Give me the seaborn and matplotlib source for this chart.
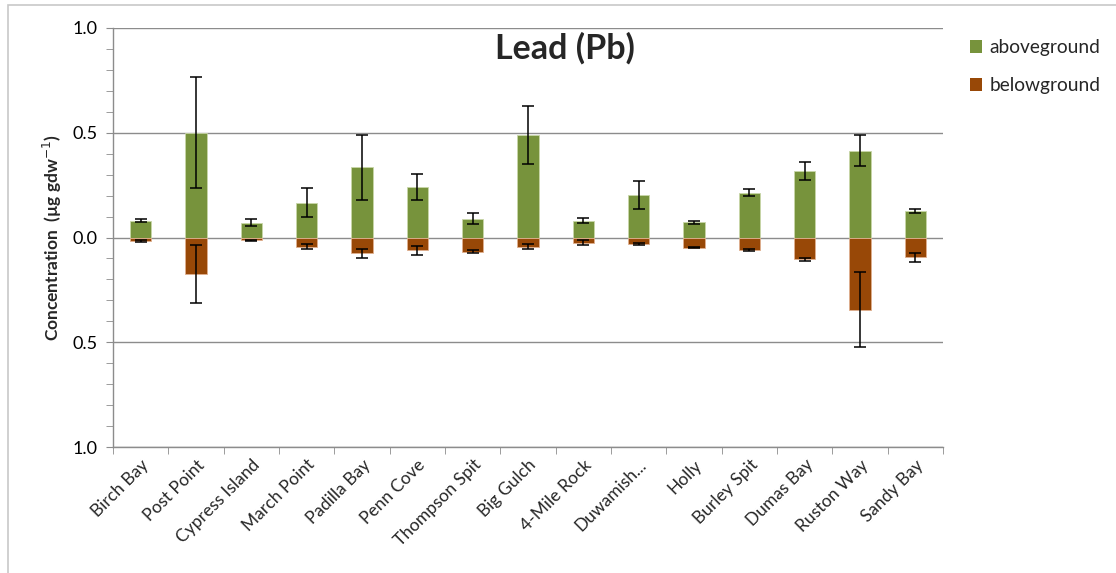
import matplotlib
matplotlib.use("Agg")
import matplotlib.pyplot as plt
from matplotlib.patches import Rectangle, Patch
from matplotlib.ticker import MultipleLocator, FixedLocator, FuncFormatter
import seaborn as sns
import pandas as pd
import numpy as np

sites = ["Birch Bay", "Post Point", "Cypress Island", "March Point", "Padilla Bay",
         "Penn Cove", "Thompson Spit", "Big Gulch", "4-Mile Rock", "Duwamish...",
         "Holly", "Burley Spit", "Dumas Bay", "Ruston Way", "Sandy Bay"]
above = [0.081, 0.500, 0.070, 0.165, 0.335, 0.241, 0.090, 0.489, 0.079, 0.203,
         0.073, 0.214, 0.319, 0.414, 0.127]
above_err = [0.009, 0.266, 0.017, 0.069, 0.154, 0.060, 0.025, 0.137, 0.012, 0.067,
             0.008, 0.018, 0.043, 0.075, 0.010]
below = [0.016, 0.173, 0.013, 0.043, 0.076, 0.062, 0.067, 0.043, 0.025, 0.029,
         0.049, 0.059, 0.105, 0.344, 0.094]
below_err = [0.005, 0.139, 0.002, 0.012, 0.023, 0.023, 0.009, 0.012, 0.013, 0.005,
             0.002, 0.005, 0.008, 0.181, 0.021]

green = "#77933C"
brown = "#984807"

sns.set_style("white")
plt.rcParams["font.family"] = ["Lato", "DejaVu Sans"]

df = pd.DataFrame({"site": sites, "above": above, "below": [-b for b in below],
                   "above_err": above_err, "below_err": below_err})

fig = plt.figure(figsize=(11.16, 5.73), dpi=100)
ax = fig.add_axes([113/1116, 1-447/573, (943-113)/1116, (447-28)/573])

sns.barplot(data=df, x="site", y="above", color=green, width=0.38, ax=ax,
            saturation=1, edgecolor="#c9d7a8", linewidth=0.6, zorder=3)
sns.barplot(data=df, x="site", y="below", color=brown, width=0.38, ax=ax,
            saturation=1, edgecolor="#e0b090", linewidth=0.6, zorder=3)

xpos = np.arange(len(sites))
ax.errorbar(xpos, df["above"], yerr=df["above_err"], fmt="none", ecolor="black",
            elinewidth=1.1, capsize=4, capthick=1.1, zorder=5)
ax.errorbar(xpos, df["below"], yerr=df["below_err"], fmt="none", ecolor="black",
            elinewidth=1.1, capsize=4, capthick=1.1, zorder=5)

ax.set_xlim(-0.5, len(sites) - 0.5)
ax.set_ylim(-1.0, 1.0)
ax.yaxis.set_major_locator(MultipleLocator(0.5))
ax.yaxis.set_minor_locator(MultipleLocator(0.1))
ax.yaxis.set_major_formatter(FuncFormatter(lambda v, p: f"{abs(v):.1f}"))
ax.grid(axis="y", which="major", color="#8c8c8c", linewidth=1.0, zorder=1)
ax.grid(axis="x", visible=False)
ax.set_axisbelow(True)

for s in ["top", "right"]:
    ax.spines[s].set_visible(False)
for s in ["left", "bottom"]:
    ax.spines[s].set_color("#8c8c8c")
    ax.spines[s].set_linewidth(1.0)

ax.tick_params(axis="y", which="both", direction="out", length=5, color="#8c8c8c",
               left=True, labelsize=13, labelcolor="#000000", pad=6)
ax.xaxis.set_minor_locator(FixedLocator(np.arange(-0.5, len(sites), 1.0)))
ax.tick_params(axis="x", which="major", length=0, labelsize=12.5, pad=7)
ax.tick_params(axis="x", which="minor", direction="out", length=5, color="#8c8c8c", bottom=True)
ax.set_xticks(xpos)
ax.set_xticklabels(sites, rotation=45, ha="right", rotation_mode="anchor")
ax.set_xlabel("")
ax.set_ylabel("Concentration  (µg gdw$^{-1}$)", fontsize=12.5, fontweight="bold", labelpad=6)

fig.text(565/1116, 1-48/573, "Lead (Pb)", fontsize=24.5, fontweight="bold",
         ha="center", va="center")

handles = [Patch(facecolor=green, edgecolor="none"), Patch(facecolor=brown, edgecolor="none")]
fig.legend(handles, ["aboveground", "belowground"], loc="upper left",
           bbox_to_anchor=(970/1116, 1-39/573), frameon=False, fontsize=13.8,
           handlelength=0.65, handleheight=0.65, handletextpad=0.35, labelspacing=1.1,
           borderaxespad=0, borderpad=0)

fig.patches.append(Rectangle((8/1116, -0.05), 1.0, 1-5/573+0.05, transform=fig.transFigure,
                             fill=False, edgecolor="#c8c8c8", linewidth=1.2, zorder=0))

fig.savefig("out.png", dpi=100)
